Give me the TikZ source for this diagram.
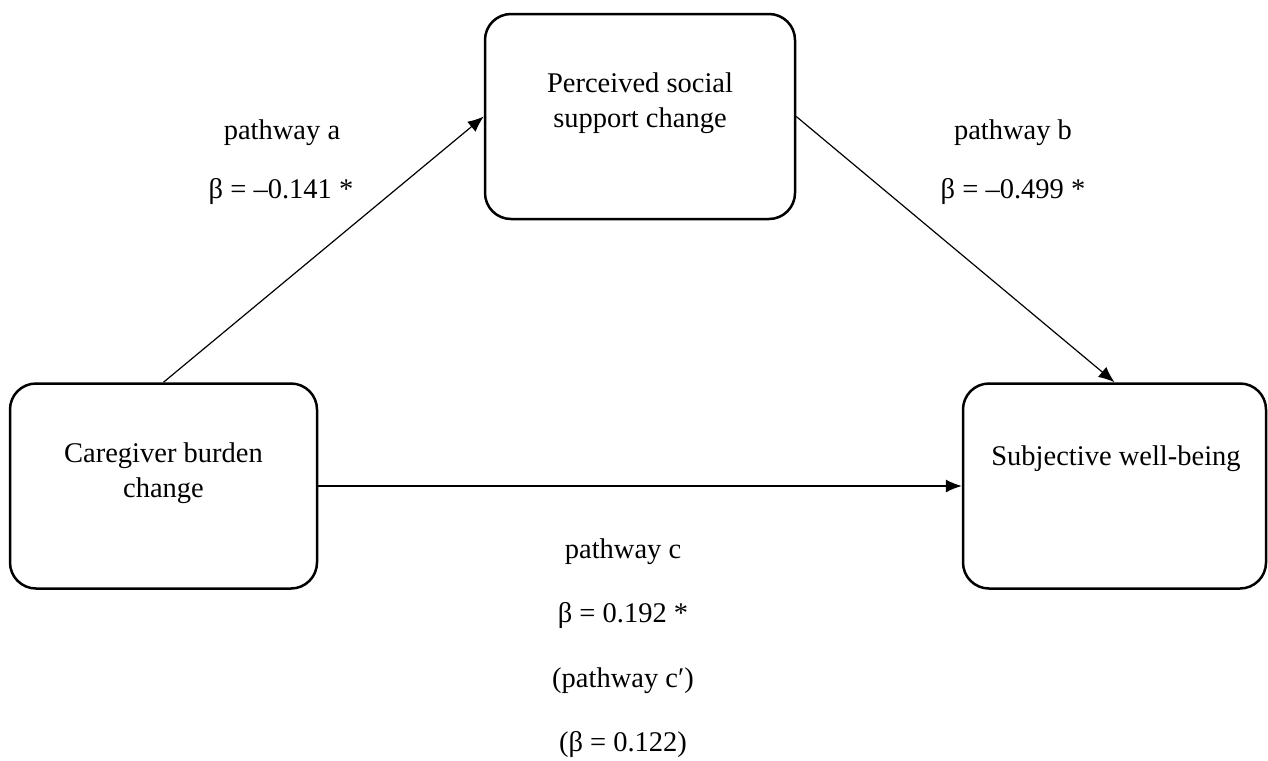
\documentclass[tikz,border=0pt]{standalone}
\usepackage{fontspec}
\setmainfont{Liberation Serif}
\usetikzlibrary{arrows.meta}

\tikzset{
  pathbox/.style={draw, line width=1.25pt, rounded corners=13pt, minimum width=155pt, minimum height=102.5pt, inner sep=0pt},
  pathtxt/.style={font=\fontsize{14.25}{17.5}\selectfont, align=center, inner sep=0pt},
  patharr/.style={line width=0.6pt, -{Latex[length=8pt,width=6.5pt]}}
}

\begin{document}
\begin{tikzpicture}[x=0.5pt,y=0.5pt,yscale=-1,xscale=1]
    \useasboundingbox (0,0) rectangle (1268,760);

    %Shape: Rounded Rect [mediator]
    \node [pathbox] (support) at (640,116.5) {};
    %Shape: Rounded Rect [predictor]
    \node [pathbox, minimum width=153.5pt] (burden) at (163.5,486) {};
    %Shape: Rounded Rect [outcome]
    \node [pathbox, minimum width=151.5pt] (wellbeing) at (1114.5,486) {};

    % Text Node
    \node [pathtxt] (supporttxt) at (640,103.5) {Perceived social\\support change};
    \node [pathtxt] (burdentxt) at (163.5,473.5) {Caregiver burden\\change};
    \node [pathtxt, anchor=base] (wellbeingtxt) at (1116,465) {Subjective well-being};

    %Straight Lines [pathways]
    \draw [patharr] (burden.north) -- (support.west);
    \draw [patharr] (support.east) -- (wellbeing.north);
    \draw [patharr] (burden.east) -- (wellbeing.west);

    % Text Node [pathway a]
    \node [pathtxt, anchor=base] (patha) at (282,139) {pathway a};
    \node [pathtxt, anchor=base] (betaa) at (281,198) {β = –0.141 *};
    % Text Node [pathway b]
    \node [pathtxt, anchor=base] (pathb) at (1013,139) {pathway b};
    \node [pathtxt, anchor=base] (betab) at (1013,198) {β = –0.499 *};
    % Text Node [pathway c]
    \node [pathtxt, anchor=base] (pathc) at (623,558) {pathway c};
    \node [pathtxt, anchor=base] (betac) at (623,622) {β = 0.192 *};
    \node [pathtxt, anchor=base] (pathcp) at (623,687) {(pathway c′)};
    \node [pathtxt, anchor=base] (betacp) at (623,751) {(β = 0.122)};

\end{tikzpicture}
\end{document}
